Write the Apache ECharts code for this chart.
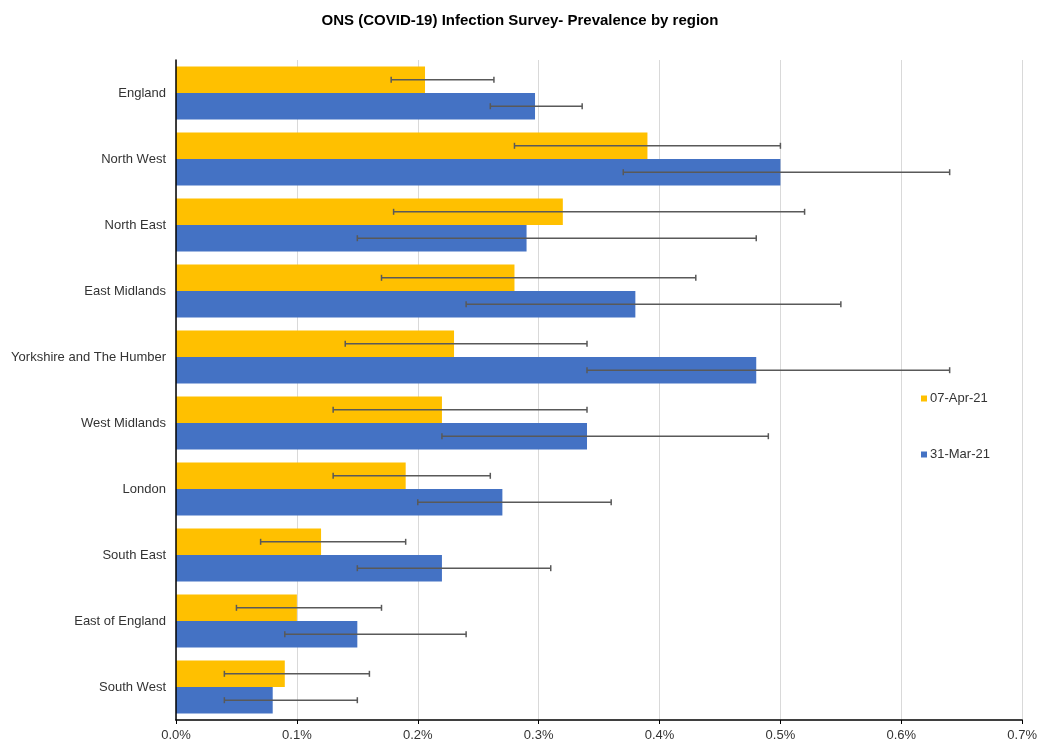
<!DOCTYPE html>
<html><head><meta charset="utf-8">
<script src="https://cdn.jsdelivr.net/npm/echarts@6/dist/echarts.min.js"></script>
<style>html,body{margin:0;padding:0;background:#fff}#c{width:1040px;height:743px}</style>
</head><body><div id="c"></div>
<script>
var regions = ['England','North West','North East','East Midlands','Yorkshire and The Humber','West Midlands','London','South East','East of England','South West'];
var apr07 = [0.206,0.39,0.32,0.28,0.23,0.22,0.19,0.12,0.10,0.09];
var apr07Low = [0.178,0.28,0.18,0.17,0.14,0.13,0.13,0.07,0.05,0.04];
var apr07High = [0.263,0.50,0.52,0.43,0.34,0.34,0.26,0.19,0.17,0.16];
var mar31 = [0.297,0.50,0.29,0.38,0.48,0.34,0.27,0.22,0.15,0.08];
var mar31Low = [0.26,0.37,0.15,0.24,0.34,0.22,0.20,0.15,0.09,0.04];
var mar31High = [0.336,0.64,0.48,0.55,0.64,0.49,0.36,0.31,0.24,0.15];
var xTicks = [0,0.1,0.2,0.3,0.4,0.5,0.6,0.7];

var GAP = 0.2;
function errSeries(low, high, side){
  var data = low.map(function(l,i){return [l, high[i], i];});
  return {
    type:'custom', silent:true, z:5,
    renderItem:function(params, api){
      var a = api.coord([api.value(0), api.value(2)]);
      var b = api.coord([api.value(1), api.value(2)]);
      var band = api.size([0,1])[1];
      var bw = band*(1-GAP)/2;
      var y = a[1] + side*bw/2;
      var st = {stroke:'#595959', lineWidth:1.5};
      return {type:'group', children:[
        {type:'line', shape:{x1:a[0],y1:y,x2:b[0],y2:y}, style:st},
        {type:'line', shape:{x1:a[0],y1:y-3,x2:a[0],y2:y+3}, style:st},
        {type:'line', shape:{x1:b[0],y1:y-3,x2:b[0],y2:y+3}, style:st}
      ]};
    },
    encode:{x:[0,1], y:2},
    data:data
  };
}

var chart = echarts.init(document.getElementById('c'));
chart.setOption({
  animation:false,
  title:{text:'ONS (COVID-19) Infection Survey- Prevalence by region', left:'center', top:8,
    textStyle:{fontFamily:'Liberation Sans', fontSize:15, fontWeight:'bold', color:'#000'}},
  legend:{orient:'vertical', left:916, top:387, itemGap:43, itemWidth:6, itemHeight:6,
    icon:'rect', data:['07-Apr-21','31-Mar-21'],
    textStyle:{fontFamily:'Liberation Sans', fontSize:13, color:'#333', padding:[0,0,0,-2]}},
  grid:{left:176, right:15, top:60, bottom:23, containLabel:false},
  xAxis:{type:'value', min:0, max:0.7, interval:0.1,
    axisLine:{show:true, lineStyle:{color:'#000', width:1.5}},
    axisTick:{show:true, length:4, lineStyle:{color:'#000'}},
    axisLabel:{fontFamily:'Liberation Sans', fontSize:13, color:'#333', margin:9,
      formatter:function(v){return v.toFixed(1)+'%';}},
    splitLine:{show:true, lineStyle:{color:'#d9d9d9'}}},
  yAxis:{type:'category', data:regions, inverse:true, z:10,
    axisLine:{show:true, lineStyle:{color:'#000', width:1.5}},
    axisTick:{show:false},
    splitLine:{show:false},
    axisLabel:{fontFamily:'Liberation Sans', fontSize:13, color:'#333', margin:10}},
  series:[
    {name:'07-Apr-21', type:'bar', data:apr07, barGap:'0%', barCategoryGap:'20%', itemStyle:{color:'#FFC000'}},
    {name:'31-Mar-21', type:'bar', data:mar31, barGap:'0%', barCategoryGap:'20%', itemStyle:{color:'#4472C4'}},
    errSeries(apr07Low, apr07High, -1),
    errSeries(mar31Low, mar31High, 1)
  ]
});
</script></body></html>
